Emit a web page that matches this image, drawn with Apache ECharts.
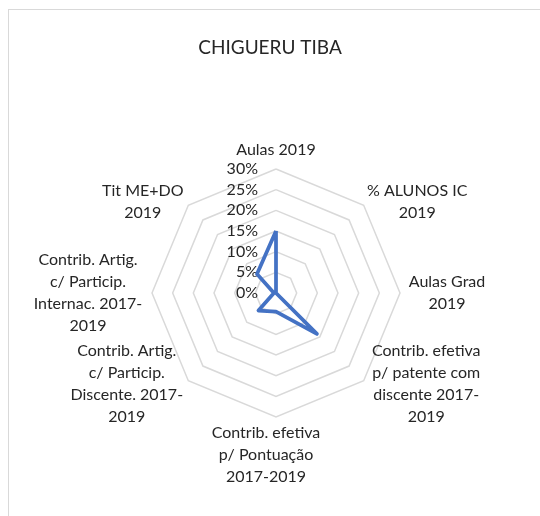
<!DOCTYPE html>
<html>
<head>
<meta charset="utf-8">
<script src="https://cdn.jsdelivr.net/npm/echarts@6/dist/echarts.min.js"></script>
<style>
  html, body { margin: 0; padding: 0; background: #fff; }
  #frame { position: absolute; left: 8px; top: 9px; width: 540px; height: 520px;
           border-left: 1px solid #d9d9d9; border-top: 1px solid #d9d9d9; }
  #chart { position: absolute; left: 0; top: 0; width: 540px; height: 516px; }
</style>
</head>
<body>
<div id="frame"></div>
<div id="chart"></div>
<script>
// categories, clockwise from the top (as in the original chart)
const indicators = [
  'Aulas 2019',
  '% ALUNOS IC\n2019',
  'Aulas Grad\n2019',
  'Contrib. efetiva\np/ patente com\ndiscente 2017-\n2019',
  'Contrib. efetiva\np/ Pontuação\n2017-2019',
  'Contrib. Artig.\nc/ Particip.\nDiscente. 2017-\n2019',
  'Contrib. Artig.\nc/ Particip.\nInternac. 2017-\n2019',
  'Tit ME+DO\n2019'
]
const values = [15, 0, 0, 14, 4.5, 6, 0.5, 6.5]
const axisMax = 30
const axisStep = 5

const font = 'Lato, "Open Sans", sans-serif'

// echarts radar runs counter-clockwise -> reorder
const order = [0, 7, 6, 5, 4, 3, 2, 1]

// per-label block style (centred lines inside a fixed-width block)
const nameStyles = [
  { width: 84, padding: [0, 0, 0, 0] },
  { width: 100, padding: [0, 0, 0, 0] },
  { width: 84, padding: [0, 0, 0, 0] },
  { width: 118, padding: [0, 0, 0, 0] },
  { width: 116, padding: [0, 20, 0, 0] },
  { width: 116, padding: [0, 0, 0, 0] },
  { width: 118, padding: [0, 0, 0, 0] },
  { width: 84, padding: [0, 0, 0, 0] }
]

const rich = {}
nameStyles.forEach((s, i) => {
  rich['n' + i] = {
    width: s.width,
    padding: s.padding,
    align: 'center',
    fontFamily: font,
    fontSize: 16,
    lineHeight: 22,
    color: '#262626'
  }
})

const chart = echarts.init(document.getElementById('chart'), null, { renderer: 'canvas' })

chart.setOption({
  animation: false,
  title: {
    text: 'CHIGUERU TIBA',
    left: 'center',
    top: 33,
    textStyle: { fontFamily: font, fontSize: 19, fontWeight: 'normal', color: '#262626' }
  },
  radar: {
    center: [276, 293],
    radius: 124,
    startAngle: 90,
    shape: 'polygon',
    splitNumber: axisMax / axisStep,
    nameGap: 5,
    indicator: order.map((k, i) => ({
      name: indicators[k],
      min: 0,
      max: axisMax,
      axisLabel: i === 0 ? { show: true } : undefined
    })),
    axisName: {
      color: '#262626',
      fontFamily: font,
      fontSize: 16,
      lineHeight: 22,
      formatter: (name) => {
        const i = indicators.indexOf(name)
        return name.split('\n').map(l => '{n' + i + '|' + l + '}').join('\n')
      },
      rich: rich
    },
    axisLine: { show: false },
    axisTick: { show: false },
    axisLabel: {
      show: false,
      fontFamily: font,
      fontSize: 16,
      color: '#262626',
      margin: 18,
      formatter: (v) => v + '%'
    },
    splitLine: { lineStyle: { color: '#d9d9d9', width: 1.5 } },
    splitArea: { show: false }
  },
  series: [
    {
      type: 'radar',
      symbol: 'none',
      lineStyle: { color: '#4472C4', width: 3.75 },
      data: [{ value: order.map(k => values[k]), name: 'CHIGUERU TIBA' }]
    }
  ]
})
</script>
</body>
</html>
